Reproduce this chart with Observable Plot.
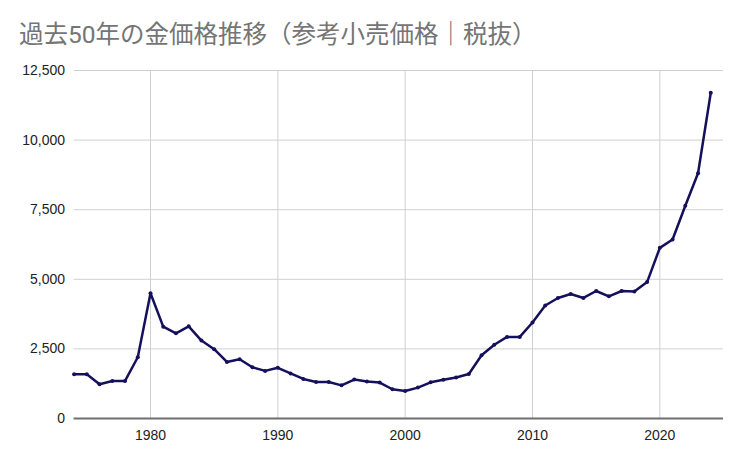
<!DOCTYPE html>
<html><head><meta charset="utf-8">
<script src="https://cdn.jsdelivr.net/npm/d3@7"></script>
<script src="https://cdn.jsdelivr.net/npm/@observablehq/plot@0.6"></script>
<style>
body{margin:0;background:#fff;}
#title{height:58px;position:relative;font-family:Roboto,"Noto Sans CJK JP",sans-serif;font-size:24.5px;color:#757575;}
#title span{position:absolute;left:19px;top:15px;white-space:nowrap;}
</style></head><body>
<div id="title"><span>過去50年の金価格推移（参考小売価格｜税抜）</span></div>
<div id="chart"></div>
<script>
const years = [1974,1975,1976,1977,1978,1979,1980,1981,1982,1983,1984,1985,1986,1987,1988,1989,
  1990,1991,1992,1993,1994,1995,1996,1997,1998,1999,2000,2001,2002,2003,2004,2005,2006,2007,2008,2009,
  2010,2011,2012,2013,2014,2015,2016,2017,2018,2019,2020,2021,2022,2023,2024];
const prices = [1590,1590,1230,1350,1350,2200,4500,3300,3060,3310,2800,2490,2030,2130,1840,1710,
  1820,1620,1420,1310,1310,1190,1400,1330,1290,1050,985,1110,1300,1390,1470,1600,2270,2650,2930,2930,
  3450,4060,4330,4470,4330,4580,4390,4580,4560,4900,6130,6430,7640,8810,11700];
const yTicks = [0,2500,5000,7500,10000,12500];
const xTicks = [1980,1990,2000,2010,2020];

const data = years.map((y,i)=>({year:y, price:prices[i]}));
const color = "#15105c";

const chart = Plot.plot({
  width: 741,
  height: 393,
  marginLeft: 73.6,
  marginRight: 18,
  marginTop: 12,
  marginBottom: 33,
  style: {fontFamily: "Arial, 'Liberation Sans', sans-serif", fontSize: "14px", color: "#222", background: "#fff"},
  x: {domain: [1974, 2025]},
  y: {domain: [0, 12500]},
  marks: [
    Plot.gridY(yTicks, {stroke: "#d0d0d0", strokeOpacity: 1, strokeWidth: 1}),
    Plot.gridX(xTicks, {stroke: "#d0d0d0", strokeOpacity: 1, strokeWidth: 1}),
    Plot.ruleY([0], {stroke: "#6f6f6f", strokeWidth: 2}),
    Plot.axisY(yTicks, {tickSize: 0, tickPadding: 9, tickFormat: d3.format(","), label: null, fill: "#222"}),
    Plot.axisX(xTicks, {tickSize: 0, tickPadding: 12, tickFormat: "d", label: null, fill: "#222"}),
    Plot.line(data, {x: "year", y: "price", stroke: color, strokeWidth: 2.5}),
    Plot.dot(data, {x: "year", y: "price", r: 2, fill: color, stroke: "none"})
  ]
});
document.getElementById("chart").appendChild(chart);
</script>
</body></html>
